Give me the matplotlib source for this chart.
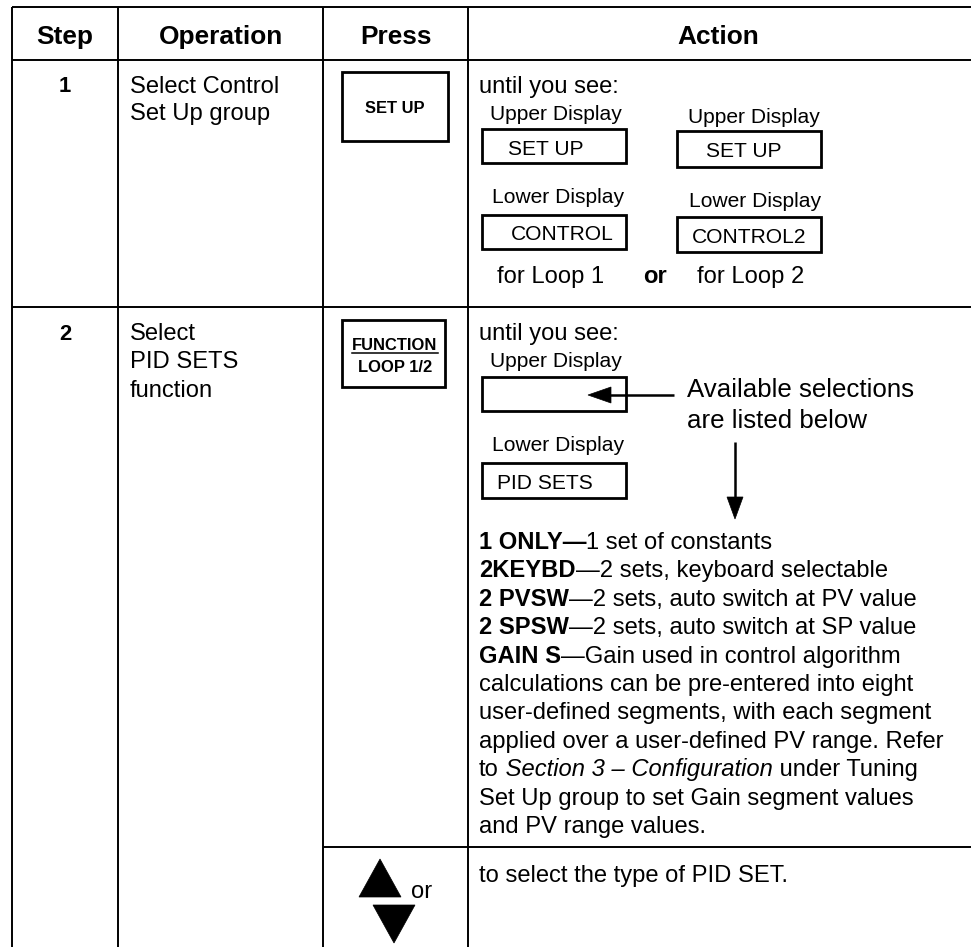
import matplotlib
matplotlib.use("Agg")
import matplotlib.pyplot as plt
from matplotlib.patches import Rectangle, Polygon

# ---------------- content ----------------
headers = ["Step", "Operation", "Press", "Action"]
steps = ["1", "2"]
operation_1 = ["Select Control", "Set Up group"]
operation_2 = ["Select", "PID SETS", "function"]
key_1 = "SET UP"
key_2 = ["FUNCTION", "LOOP 1/2"]
until_text = "until you see:"
upper_label = "Upper Display"
lower_label = "Lower Display"
row1_upper = ["SET UP", "SET UP"]
row1_lower = ["CONTROL", "CONTROL2"]
row1_loops = ["for Loop 1", "for Loop 2"]
or_text = "or"
row2_lower = "PID SETS"
avail_text = ["Available selections", "are listed below"]
selections = [("1 ONLY—", "1 set of constants"),
              ("2KEYBD", "—2 sets, keyboard selectable"),
              ("2 PVSW", "—2 sets, auto switch at PV value"),
              ("2 SPSW", "—2 sets, auto switch at SP value"),
              ("GAIN S", "—Gain used in control algorithm")]
gain_lines = ["calculations can be pre-entered into eight",
              "user-defined segments, with each segment",
              "applied over a user-defined PV range. Refer"]
gain_ref = ("to", " Section 3 – Configuration", " under Tuning")
gain_tail = ["Set Up group to set Gain segment values",
             "and PV range values."]
arrow_text = "to select the type of PID SET."

# ---------------- figure ----------------
W, H = 971, 947
fig = plt.figure(figsize=(W / 100, H / 100), dpi=100)
ax = fig.add_axes([0, 0, 1, 1])
ax.set_xlim(0, W)
ax.set_ylim(H, 0)
ax.axis("off")
renderer = fig.canvas.get_renderer()

FONT = "Liberation Sans"
PX = 0.72  # points per pixel at dpi 100
BODY = 23.7 * PX
SMALL = 21.0 * PX
HEAD = 26.3 * PX
BIG = 25.9 * PX
KEY = 16.5 * PX
STEP = 22.0 * PX

LW_T = 1.4   # table line width
LW_B = 2.0   # box line width
K = "black"


def txt(x, y, s, size=BODY, weight="normal", style="normal", ha="left"):
    return ax.text(x, y, s, fontsize=size, fontfamily=FONT, fontweight=weight,
                   fontstyle=style, ha=ha, va="baseline", color=K)


def width(t):
    return t.get_window_extent(renderer=renderer).width


def runs(x, y, parts, size=BODY):
    for s, weight, style in parts:
        t = txt(x, y, s, size=size, weight=weight, style=style)
        x += width(t)


def box(x0, y0, x1, y1, lw=LW_B):
    ax.add_patch(Rectangle((x0, y0), x1 - x0, y1 - y0, fill=False,
                           edgecolor=K, linewidth=lw))


def hline(y, x0, x1):
    ax.plot([x0, x1], [y, y], color=K, lw=LW_T, solid_capstyle="butt")


def vline(x, y0, y1):
    ax.plot([x, x], [y0, y1], color=K, lw=LW_T, solid_capstyle="butt")


# ---------------- table grid ----------------
col_x = [12, 118, 323, 468]
right = W
top, head_bot, row1_bot, sub_line = 6.5, 60, 307, 847
hline(top, col_x[0], right)
hline(head_bot, col_x[0], right)
hline(row1_bot, col_x[0], right)
hline(sub_line, col_x[2], right)
for x in col_x:
    vline(x, top, H)

# header
centers = [(col_x[0] + col_x[1]) / 2, (col_x[1] + col_x[2]) / 2,
           (col_x[2] + col_x[3]) / 2, (col_x[3] + 969) / 2]
for c, h in zip(centers, headers):
    txt(c, 44, h, size=HEAD, weight="bold", ha="center")

# ---------------- row 1 ----------------
txt(centers[0], 92, steps[0], size=STEP, weight="bold", ha="center")
for i, line in enumerate(operation_1):
    txt(130, 93 + 27 * i, line)
box(342, 72, 448, 141)
txt(395, 113, key_1, size=KEY, weight="bold", ha="center")

txt(479, 93, until_text)
# left column of displays
txt(490, 120, upper_label, size=SMALL)
box(482, 129, 626, 163)
txt(508, 155, row1_upper[0], size=SMALL)
txt(492, 203, lower_label, size=SMALL)
box(482, 215, 626, 249)
txt(511, 240, row1_lower[0], size=SMALL)
txt(497, 283, row1_loops[0])
# right column of displays
txt(688, 123, upper_label, size=SMALL)
box(677, 131, 821, 167)
txt(706, 157, row1_upper[1], size=SMALL)
txt(689, 207, lower_label, size=SMALL)
box(677, 217, 821, 252)
txt(692, 243, row1_lower[1], size=SMALL)
txt(697, 283, row1_loops[1])
txt(643, 283, or_text, weight="bold")

# ---------------- row 2 ----------------
txt(centers[0], 340, steps[1], size=STEP, weight="bold", ha="center")
for i, line in enumerate(operation_2):
    txt(130, 340 + 28.3 * i, line)
box(342, 320, 445, 387)
tf = txt(395, 350, key_2[0], size=KEY, weight="bold", ha="center")
wf = width(tf)
ax.plot([395 - wf / 2, 395 + wf / 2], [353, 353], color=K, lw=1.1)
txt(395, 372, key_2[1], size=KEY, weight="bold", ha="center")

txt(479, 340, until_text)
txt(490, 367, upper_label, size=SMALL)
box(482, 377, 626, 411)
# left arrow
ax.plot([674, 606], [395, 395], color=K, lw=1.8, solid_capstyle="butt")
ax.add_patch(Polygon([[588, 395], [611, 387], [611, 403]], closed=True,
                     facecolor=K, edgecolor=K, lw=0.5))
txt(687, 397, avail_text[0], size=BIG)
txt(687, 428, avail_text[1], size=BIG)
txt(492, 451, lower_label, size=SMALL)
box(482, 463, 626, 498)
txt(497, 489, row2_lower, size=SMALL)
# down arrow
ax.plot([735, 735], [442, 502], color=K, lw=1.8, solid_capstyle="butt")
ax.add_patch(Polygon([[735, 519], [727, 497], [743, 497]], closed=True,
                     facecolor=K, edgecolor=K, lw=0.5))

# list of selections
y0, dy = 549, 28.4
lines_y = [y0 + dy * i for i in range(11)]
for i, (b, r) in enumerate(selections):
    runs(479, lines_y[i], [(b, "bold", "normal"), (r, "normal", "normal")])
k = len(selections)
for j, line in enumerate(gain_lines):
    txt(479, lines_y[k + j], line)
k += len(gain_lines)
runs(479, lines_y[k], [(gain_ref[0], "normal", "normal"),
                       (gain_ref[1], "normal", "italic"),
                       (gain_ref[2], "normal", "normal")])
k += 1
for j, line in enumerate(gain_tail):
    txt(479, lines_y[k + j], line)

# arrow keys
ax.add_patch(Polygon([[359, 897], [401, 897], [380, 859]], closed=True,
                     facecolor=K, edgecolor=K, lw=0.5))
ax.add_patch(Polygon([[373, 905], [415, 905], [394, 943]], closed=True,
                     facecolor=K, edgecolor=K, lw=0.5))
txt(411, 898, or_text)
txt(479, 882, arrow_text)

fig.savefig("out.png", dpi=100, facecolor="white")
